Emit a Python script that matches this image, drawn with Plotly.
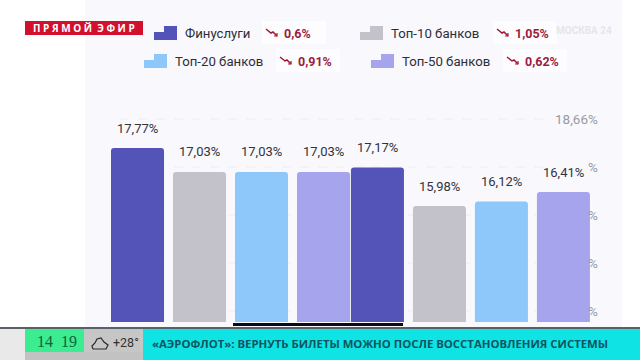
import plotly.graph_objects as go

# --- data ---
slots = [0, 1, 2, 3, 3.87, 4.87, 5.87, 6.87]
values = [17.77, 17.03, 17.03, 17.03, 17.17, 15.98, 16.12, 16.41]
value_labels = ["17,77%", "17,03%", "17,03%", "17,03%", "17,17%", "15,98%", "16,12%", "16,41%"]
bar_colors = ["#5353b8", "#c3c2ca", "#8ec8fa", "#a6a4ec", "#5353b8", "#c3c2ca", "#8ec8fa", "#a6a4ec"]
tick_vals = [18.66, 17.18, 15.70, 14.22, 12.74]
tick_text = ["18,66%", "%", "%", "%", "%"]
legend_names = ["Финуслуги", "Топ-10 банков", "Топ-20 банков", "Топ-50 банков"]
legend_deltas = ["0,6%", "1,05%", "0,91%", "0,62%"]
legend_colors = ["#5353b8", "#c3c2ca", "#8ec8fa", "#a6a4ec"]
ticker = "«АЭРОФЛОТ»: ВЕРНУТЬ БИЛЕТЫ МОЖНО ПОСЛЕ ВОССТАНОВЛЕНИЯ СИСТЕМЫ"

W, H = 640, 360
PX = lambda x: x / W
PY = lambda y: 1 - y / H
shapes, ann = [], []

def rect(x0, y0, x1, y1, color, layer="below"):
    shapes.append(dict(type="rect", xref="paper", yref="paper", x0=PX(x0), x1=PX(x1),
                       y0=PY(y1), y1=PY(y0), fillcolor=color, line_width=0, layer=layer))

def text(x, y, s, size, color, anchor="left", bold=False, family="Roboto"):
    ann.append(dict(xref="paper", yref="paper", x=PX(x), y=PY(y), text=f"<b>{s}</b>" if bold else s,
                    showarrow=False, xanchor=anchor, yanchor="middle",
                    font=dict(size=size, color=color, family=family)))

def path(points, color, width):
    d = "M " + " L ".join(f"{PX(a):.4f},{PY(b):.4f}" for a, b in points)
    shapes.append(dict(type="path", xref="paper", yref="paper", path=d, layer="above",
                       line=dict(color=color, width=width)))

# backgrounds
rect(85, 0, 622, 328, "#f8f8fd")

# dashed grid
for v in tick_vals:
    shapes.append(dict(type="line", xref="paper", yref="y", x0=PX(120), x1=PX(553), y0=v, y1=v,
                       line=dict(color="#eeeef2", width=1, dash="dash"), layer="below"))

# legend
rows = [(154, 33), (360, 33), (144, 61), (371, 61)]
val_x = [284, 515, 298, 525]
for (x, y), vx, name, delta, col in zip(rows, val_x, legend_names, legend_deltas, legend_colors):
    rect(x, y - 7, x + 23, y + 7, col)
    rect(x, y - 7, x + 10, y - 1, "#f8f8fd")
    text(x + 29, y, name, 13.2, "#2e2e36")
    rect(vx - 22, y - 12, vx + 42, y + 11, "#fdfdff")
    path([(vx - 18, y - 4), (vx - 13, y), (vx - 11, y - 1), (vx - 7, y + 3)], "#a01832", 1.5)
    path([(vx - 10, y + 3), (vx - 7, y + 3), (vx - 7, y)], "#a01832", 1.2)
    text(vx - 2, y, delta, 12.5, "#9c1c3c", bold=True)

# live badge
rect(25, 21, 143, 35, "#d0102c", "above")
text(84, 28, "П Р Я М О Й  Э Ф И Р", 10, "#ffffff", "center", True, "Open Sans")

# watermark
text(554, 30, "МОСКВА 24", 10, "rgba(225,225,232,0.8)", "left", True)

# ticker
rect(0, 328, 640, 360, "#e9e9ea", "above")
rect(84, 328, 143, 360, "#c6c6c6", "above")
rect(25, 328, 84, 352, "#3cec90", "above")
rect(25, 352, 143, 360, "#c2c2c2", "above")
rect(143, 328, 640, 360, "#0fe3e3", "above")
rect(0, 327, 640, 329, "#5a6068", "above")
rect(233, 323, 403, 326, "#0a0a14", "above")
text(57, 341, "14  19", 16, "#12603c", "center", family="Liberation Sans Narrow")
path([(93, 349), (106, 349), (108, 345), (104, 342), (101, 338), (97, 339), (95, 343), (92, 346), (93, 349)], "#2a2a2a", 1.2)
text(111, 342, "+28°", 12.5, "#333333")
text(150, 343, ticker, 11.35, "#0b5562", bold=True, family="Open Sans")

# value labels and tick labels from data
for s, v, lab in zip(slots, values, value_labels):
    ann.append(dict(x=s, y=v, text=lab, showarrow=False, yshift=20, yanchor="middle",
                    font=dict(size=13, color="#33333b", family="Roboto")))
for v, lab in zip(tick_vals, tick_text):
    ann.append(dict(xref="paper", x=PX(600), y=v, text=lab, showarrow=False, xanchor="right", yanchor="middle",
                    font=dict(size=13.5, color="#9a9aa2", family="Roboto")))

fig = go.Figure(go.Bar(x=slots, y=values, width=0.855, marker=dict(color=bar_colors, line_width=0),
                       hoverinfo="skip"))
fig.update_layout(
    width=W, height=H, margin=dict(l=0, r=0, t=0, b=0), paper_bgcolor="#ffffff", plot_bgcolor="rgba(0,0,0,0)",
    barcornerradius=3, showlegend=False, shapes=shapes, annotations=ann,
    xaxis=dict(range=[-137.5 / 62, (640 - 137.5) / 62], visible=False),
    yaxis=dict(domain=[38 / 360, 1], range=[12.4, 12.4 + 322 / 32.4], visible=False),
)
fig.write_html("out.html", config={"displayModeBar": False},
               post_script="document.documentElement.style.overflow='hidden';document.body.style.margin='0';")
